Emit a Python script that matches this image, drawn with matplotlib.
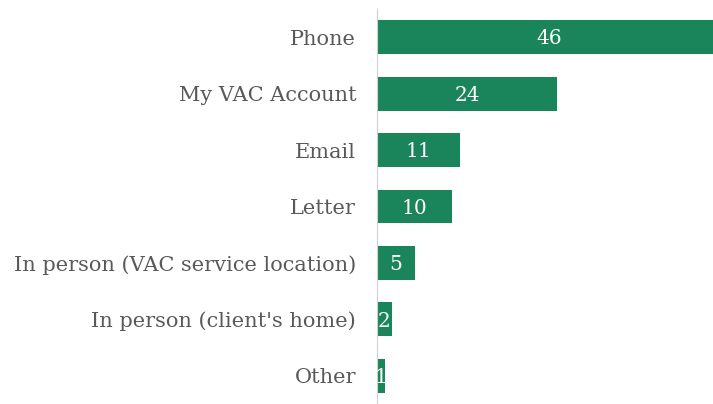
import matplotlib.pyplot as plt

channels = ["Phone", "My VAC Account", "Email", "Letter",
            "In person (VAC service location)", "In person (client's home)", "Other"]
counts = [46, 24, 11, 10, 5, 2, 1]

plt.rcParams['font.family'] = ['DejaVu Serif']

fig = plt.figure(figsize=(7.13, 4.04), dpi=100)
ax = fig.add_axes([377/713, 0, 1 - 377/713, 1 - 9/404])

y = list(range(len(channels)))
ax.barh(y, counts, height=0.6, color="#1a845a")
for yi, c in zip(y, counts):
    ax.text(c / 2, yi + 0.03, str(c), ha="center", va="center", color="white", fontsize=14.5)

ax.set_ylim(6.5, -0.5)
ax.set_xlim(0, 44.8)
ax.set_yticks(y)
ax.set_yticklabels(channels, fontsize=15, color="#595959")
ax.tick_params(axis="y", length=0, pad=15)
ax.set_xticks([])
for s in ["top", "right", "bottom"]:
    ax.spines[s].set_visible(False)
ax.spines["left"].set_color("#d0d0d0")

fig.savefig("out.png")
